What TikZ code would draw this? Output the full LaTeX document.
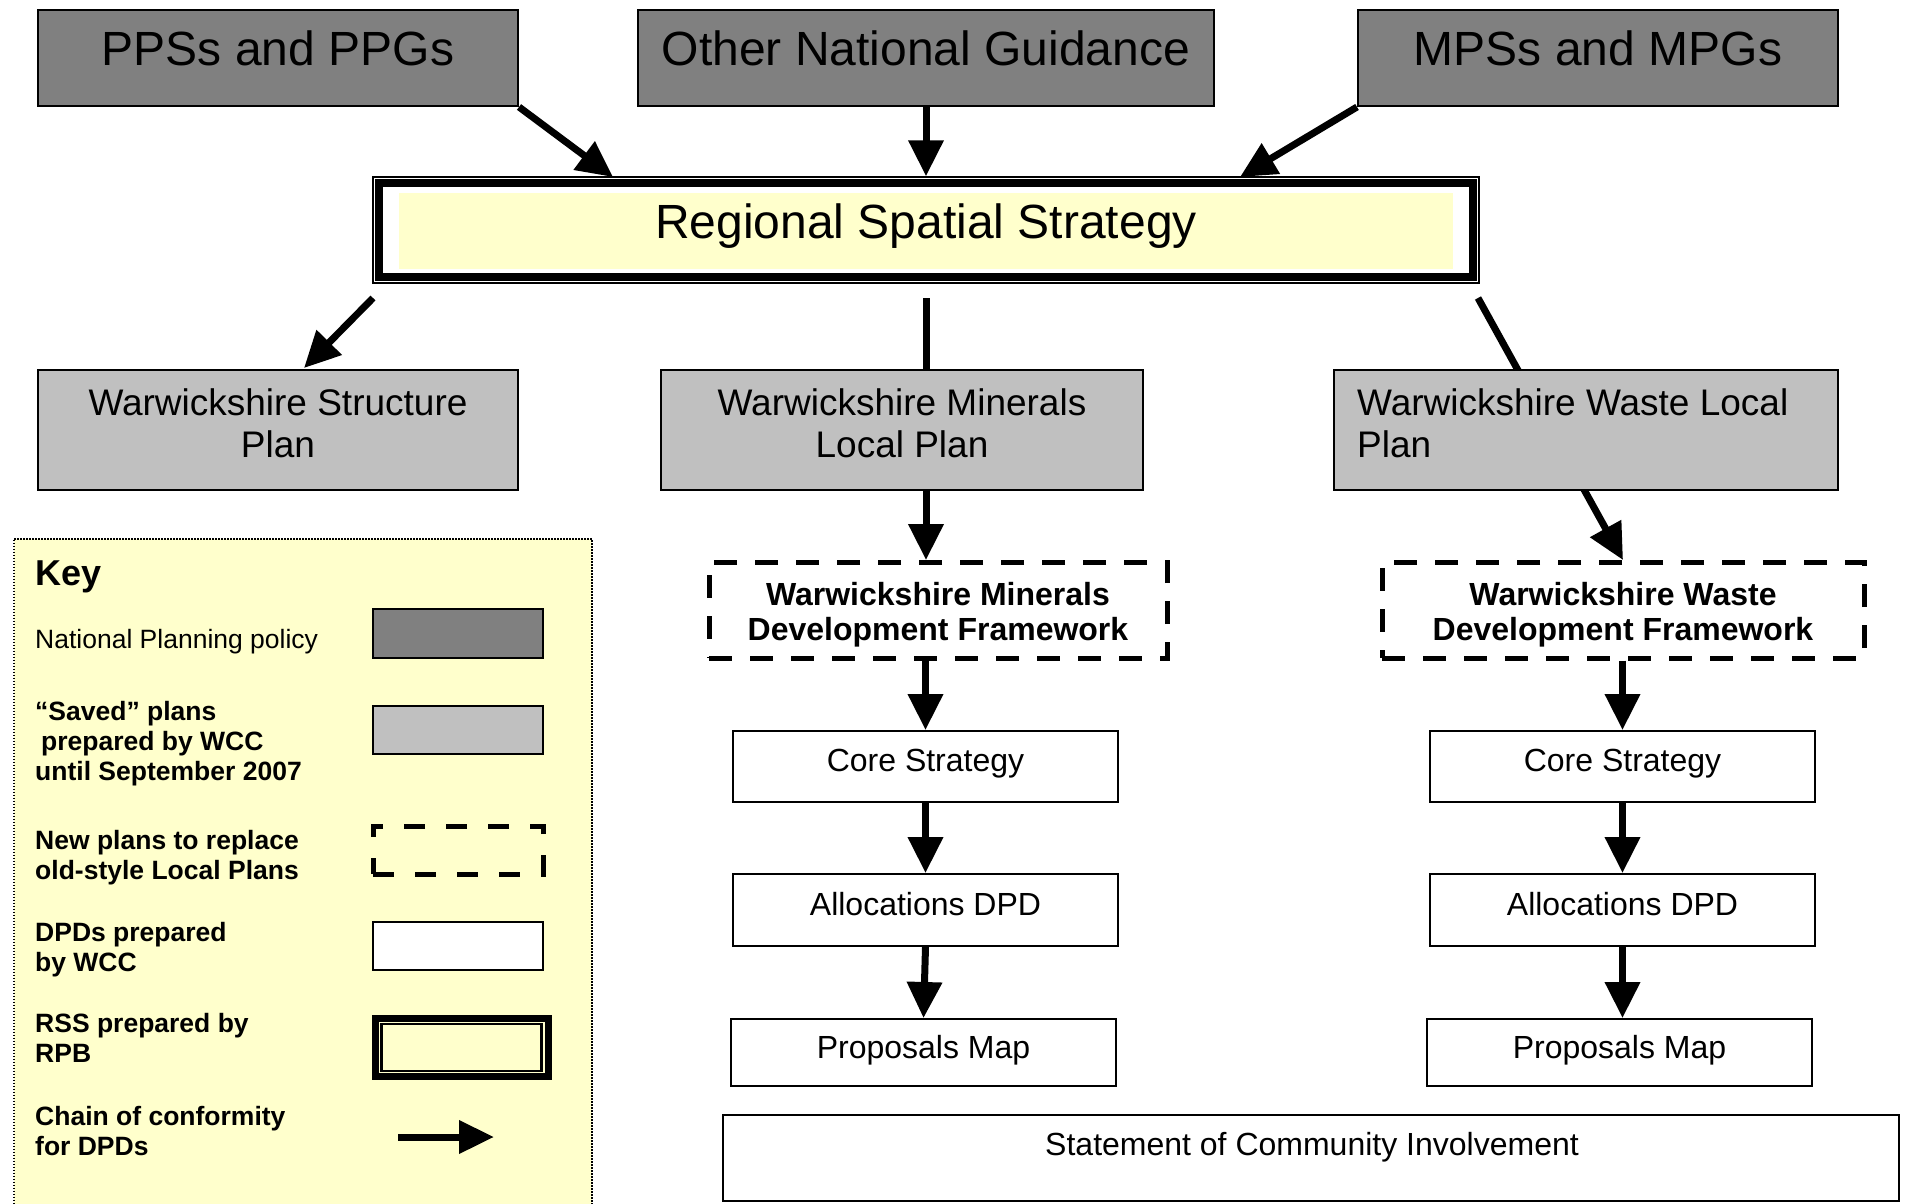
\documentclass[tikz,border=0pt]{standalone}
\usepackage{fontspec}
\setmainfont{Liberation Sans}
\usetikzlibrary{arrows.meta,backgrounds}
\definecolor{darkg}{HTML}{808080}
\definecolor{lightg}{HTML}{C0C0C0}
\definecolor{keyyel}{HTML}{FFFFCC}
\begin{document}
\begin{tikzpicture}[x=1pt,y=-1pt,
  box/.style={draw, line width=2pt, rectangle, inner sep=0pt},
  darkbox/.style={box, fill=darkg},
  greybox/.style={box, fill=lightg},
  whitebox/.style={box, fill=white},
  dashbox/.style={draw, line width=5pt, dash pattern=on 23pt off 18pt, fill=white, rectangle, inner sep=0pt},
  txt/.style={inner sep=0pt},
  ftop/.style={txt, font=\fontsize{48}{56}\selectfont},
  fmid/.style={txt, font=\fontsize{37}{42}\selectfont},
  fdf/.style={txt, font=\bfseries\fontsize{32}{35}\selectfont},
  fsm/.style={txt, font=\fontsize{32}{38}\selectfont},
  fkey/.style={txt, font=\bfseries\fontsize{26.5}{30}\selectfont},
  conn/.style={line width=7pt, -{Triangle[length=36pt,width=34pt]}},
  plain/.style={line width=7pt}
]
\useasboundingbox (0,0) rectangle (1906,1203);
\begin{scope}[on background layer]
  \fill[white] (0,0) rectangle (1906,1203);
\end{scope}

% ---------- top row ----------
\node[darkbox, minimum width=480, minimum height=96] (pps) at (278,58) {};
\node[ftop, anchor=base] (ppsT) at (278,65) {PPSs and PPGs};
\node[darkbox, minimum width=576, minimum height=96] (ong) at (926,58) {};
\node[ftop, anchor=base] (ongT) at (926,65) {Other National Guidance};
\node[darkbox, minimum width=480, minimum height=96] (mps) at (1598,58) {};
\node[ftop, anchor=base] (mpsT) at (1598,65) {MPSs and MPGs};

% ---------- RSS ----------
\node[draw, line width=1.5pt, fill=white, minimum width=1106, minimum height=106, inner sep=0pt] (rss) at (926,230) {};
\draw[line width=8pt] ([shift={(7,7)}]rss.north west) rectangle ([shift={(-7,-7)}]rss.south east);
\fill[keyyel] (399,193) rectangle (1453,269);
\node[ftop, anchor=base] (rssT) at (926,238) {Regional Spatial Strategy};

% ---------- middle row ----------
\node[greybox, minimum width=480, minimum height=120] (sp) at (278,430) {};
\node[fmid, anchor=north, align=center] (spT) at (278,388) {Warwickshire Structure\\Plan};
\node[greybox, minimum width=482, minimum height=120] (mlp) at (902,430) {};
\node[fmid, anchor=north, align=center] (mlpT) at (902,388) {Warwickshire Minerals\\Local Plan};
\node[greybox, minimum width=504, minimum height=120] (wlp) at (1586,430) {};
\node[fmid, anchor=north west, align=left] (wlpT) at (1357,388) {Warwickshire Waste Local\\Plan};

% ---------- development frameworks ----------
\node[dashbox, minimum width=458, minimum height=96] (mdf) at (938,610) {};
\node[fdf, anchor=north, align=center] (mdfT) at (938,582) {Warwickshire Minerals\\Development Framework};
\node[dashbox, minimum width=482, minimum height=96] (wdf) at (1623,610) {};
\node[fdf, anchor=north, align=center] (wdfT) at (1623,582) {Warwickshire Waste\\Development Framework};

% ---------- DPD chains ----------
\node[whitebox, minimum width=385, minimum height=71] (core) at (925.5,766.5) {};
\node[fsm, anchor=base] (coreT) at (925.5,771) {Core Strategy};
\node[whitebox, minimum width=385, minimum height=72] (alloc) at (925.5,910) {};
\node[fsm, anchor=base] (allocT) at (925.5,915) {Allocations DPD};
\node[whitebox, minimum width=385, minimum height=67] (prop) at (923.5,1052.5) {};
\node[fsm, anchor=base] (propT) at (923.5,1058) {Proposals Map};

\node[whitebox, minimum width=385, minimum height=71] (wcore) at (1622.5,766.5) {};
\node[fsm, anchor=base] (wcoreT) at (1622.5,771) {Core Strategy};
\node[whitebox, minimum width=385, minimum height=72] (walloc) at (1622.5,910) {};
\node[fsm, anchor=base] (wallocT) at (1622.5,915) {Allocations DPD};
\node[whitebox, minimum width=385, minimum height=67] (wprop) at (1619.5,1052.5) {};
\node[fsm, anchor=base] (wpropT) at (1619.5,1058) {Proposals Map};

\node[whitebox, minimum width=1176, minimum height=86] (sci) at (1311,1158) {};
\node[fsm, anchor=base] (sciT) at (1312,1155) {Statement of Community Involvement};

% ---------- connector end points ----------
\coordinate (rssInA) at (613,177);
\coordinate (rssInC) at (1240,177);
\coordinate (rssOutA) at (373,298);
\coordinate (rssOutB) at (926,298);
\coordinate (rssOutC) at (1478,298);
\coordinate (spIn) at (304,368);
\coordinate (mdfIn) at (926,560);
\coordinate (wdfIn) at (1623,560);

% ---------- connectors ----------
\draw[conn] (pps.south east) -- (rssInA);
\draw[conn] (ong.south) -- (rss.north);
\draw[conn] (mps.south west) -- (rssInC);
\draw[conn] (rssOutA) -- (spIn);
\begin{scope}[on background layer]
  \draw[conn] (rssOutB) -- (mdfIn);
  \draw[conn] (rssOutC) -- (wdfIn);
\end{scope}
\draw[conn] (core.north |- mdf.south) -- (core.north);
\draw[conn] (core.south) -- (alloc.north);
\draw[conn] (alloc.south) -- (prop.north);
\draw[conn] (wcore.north |- wdf.south) -- (wcore.north);
\draw[conn] (wcore.south) -- (walloc.north);
\draw[conn] (walloc.south) -- (walloc.south |- wprop.north);

% ---------- key ----------
\node[draw, line width=1.5pt, dash pattern=on 1.5pt off 1.5pt, fill=keyyel, minimum width=578, minimum height=700, anchor=north west, inner sep=0pt] (key) at (13,538) {};
\node[txt, font=\bfseries\fontsize{36}{40}\selectfont, anchor=base west] (keyT) at (35,585) {Key};
\node[txt, font=\fontsize{26.5}{30}\selectfont, anchor=base west] (k1T) at (35,648) {National Planning policy};
\node[darkbox, minimum width=170, minimum height=49] (k1) at (458,633.5) {};
\node[fkey, anchor=north west, align=left] (k2T) at (35,701.5) {“Saved” plans\\\hspace*{6pt}prepared by WCC\\until September 2007};
\node[greybox, minimum width=170, minimum height=48] (k2) at (458,730) {};
\node[fkey, anchor=north west, align=left] (k3T) at (35,830.5) {New plans to replace\\old-style Local Plans};
\node[draw, line width=5pt, dash pattern=on 21pt off 21pt, rectangle, inner sep=0pt, minimum width=170, minimum height=48] (k3) at (458,850) {};
\node[fkey, anchor=north west, align=left] (k4T) at (35,922.5) {DPDs prepared\\by WCC};
\node[whitebox, minimum width=170, minimum height=48] (k4) at (458,946) {};
\node[fkey, anchor=north west, align=left] (k5T) at (35,1013.5) {RSS prepared by\\RPB};
\node[draw, line width=7pt, rectangle, inner sep=0pt, minimum width=173, minimum height=58] (k5) at (461.5,1047.5) {};
\draw[line width=2.5pt] ([shift={(10,9)}]k5.north west) rectangle ([shift={(-10,-9)}]k5.south east);
\node[fkey, anchor=north west, align=left] (k6T) at (35,1106.5) {Chain of conformity\\for DPDs};
\coordinate (k6S) at (398,1137);
\coordinate (k6E) at (494,1137);
\draw[line width=7pt, -{Triangle[length=35pt,width=32pt]}] (k6S) -- (k6E);
\end{tikzpicture}
\end{document}
